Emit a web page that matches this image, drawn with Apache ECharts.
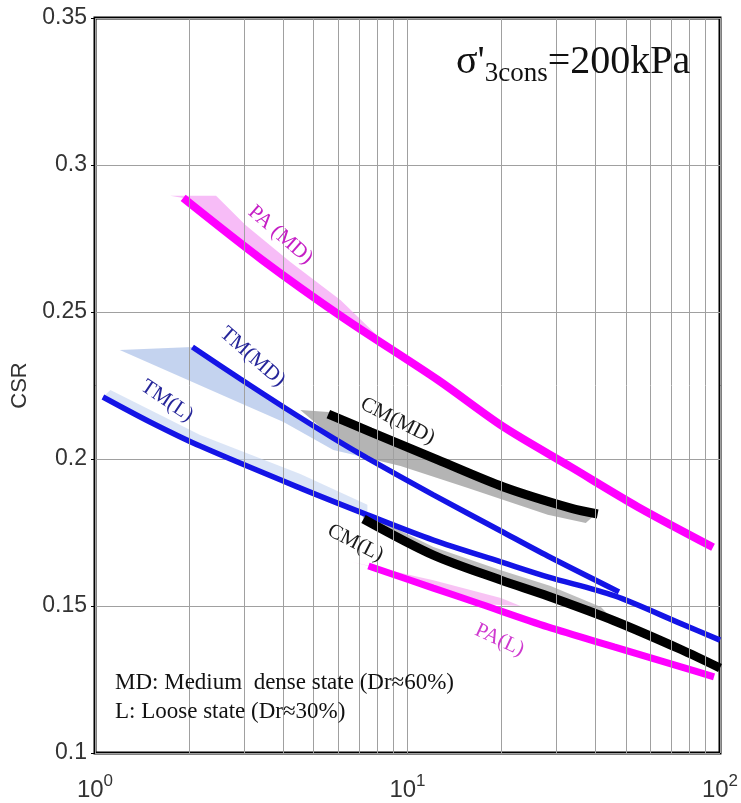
<!DOCTYPE html>
<html><head><meta charset="utf-8">
<script src="https://cdn.jsdelivr.net/npm/echarts@6/dist/echarts.min.js"></script>
<style>html,body{margin:0;padding:0;background:#fff}#c{width:741px;height:803px}</style>
</head><body><div id="c"></div>
<script>
// ---- data (x = number of cycles, log scale; y = CSR) ----
const paMD = [[1.915,0.2888],[3.43,0.2677],[6.24,0.2480],[12.5,0.2269],[20.3,0.2109],[33.3,0.1973],[54.6,0.1837],[95,0.170]];
const paMDShade = [[1.74,0.2895],[2.44,0.2895],[3.03,0.2796],[4.22,0.267],[6.10,0.2541],[9.0,0.2367],[6.24,0.2480],[3.43,0.2677],[1.915,0.2888]];
const tmMD = [[2.05,0.2381],[2.92,0.2272],[4.01,0.2177],[5.79,0.2071],[7.44,0.2003],[12.1,0.1878],[19.9,0.1755],[28.1,0.1670],[47.5,0.1548]];
const tmMDShade = [[1.20,0.2371],[2.05,0.2381],[2.92,0.2272],[4.01,0.2177],[5.79,0.2071],[7.44,0.2003],[5.79,0.2031],[4.01,0.2126],[2.77,0.2201]];
const tmL = [[1.06,0.2211],[1.50,0.2126],[2.17,0.2044],[4.54,0.1901],[7.44,0.1810],[12.1,0.1724],[19.9,0.1650],[28.1,0.1599],[45.8,0.1535],[75,0.1440],[100,0.1384]];
const tmLShade = [[1.12,0.2235],[2.17,0.2082],[4.54,0.1949],[7.44,0.1844],[7.44,0.1810],[4.54,0.1901],[2.17,0.2044],[1.50,0.2126],[1.06,0.2211]];
const cmMD = [[5.58,0.2153],[7.61,0.2092],[12.5,0.1997],[20.3,0.1905],[33.3,0.1833],[40.6,0.1813]];
const cmMDShade = [[4.54,0.2167],[5.58,0.2160],[7.61,0.2098],[12.5,0.2003],[20.3,0.1911],[33.3,0.1839],[40.6,0.1819],[37.2,0.1782],[28.1,0.1810],[15.6,0.1901],[9.50,0.1976],[7.44,0.2003],[5.79,0.2071]];
const cmL = [[7.23,0.1796],[12.1,0.1673],[19.9,0.1588],[28.1,0.1534],[45.8,0.1450],[75,0.1352],[100,0.1289]];
const cmLShade = [[7.07,0.1823],[12.1,0.1701],[19.9,0.1622],[28.7,0.1568],[41.6,0.1497],[45.8,0.1450],[28.1,0.1534],[19.9,0.1588],[12.1,0.1673],[7.23,0.1796]];
const paL = [[7.50,0.1636],[12.1,0.1561],[17.1,0.1507],[28.1,0.1429],[45.8,0.1361],[75,0.1293],[95.7,0.1259]];
const paLShade = [[6.66,0.1650],[12.1,0.1588],[19.9,0.1527],[23.0,0.150],[17.1,0.1507],[12.1,0.1561],[7.50,0.1636]];

const yTickLabels = ['0.1','0.15','0.2','0.25','0.3','0.35'];
const xTickExponents = ['0','1','2'];
const minorGridX = [2,3,4,5,6,7,8,9,20,30,40,50,60,70,80,90];

const curveLabels = [
  {text:'PA (MD)', at:[3.92,0.2762], rot:41, color:'#c51fc5'},
  {text:'TM(MD)', at:[3.19,0.2347], rot:41, color:'#26269a'},
  {text:'TM(L)', at:[1.70,0.2197], rot:34, color:'#26269a'},
  {text:'CM(MD)', at:[9.29,0.2129], rot:27, color:'#1a1a1a'},
  {text:'CM(L)', at:[6.81,0.1714], rot:27, color:'#1a1a1a'},
  {text:'PA(L)', at:[19.7,0.1384], rot:25, color:'#cf3acf'}
];

const chart = echarts.init(document.getElementById('c'), null, {renderer:'canvas'});

function shadeSeries(pts, color){
  return {
    type:'custom', data: pts, z:2, silent:true, clip:true,
    renderItem: function(params, api){
      if (params.dataIndex !== 0) return null;
      return {type:'polygon', shape:{points: pts.map(p => api.coord(p))}, style:{fill: color}};
    }
  };
}
function lineSeries(pts, color, width){
  return {type:'line', data: pts, smooth:0.3, showSymbol:false, z:3, silent:true,
    lineStyle:{color: color, width: width, cap:'butt'}};
}

chart.setOption({
  animation:false,
  backgroundColor:'#fff',
  grid:{left:95, top:18, right:21, bottom:50, show:true, borderColor:'#000', borderWidth:3,
        backgroundColor:'transparent', containLabel:false, outerBoundsMode:'none'},
  xAxis:{type:'log', logBase:10, min:1, max:100,
    axisLine:{show:false}, axisTick:{show:false},
    splitLine:{show:true, lineStyle:{color:'#a0a0a0', width:1}},
    axisLabel:{showMinLabel:true, showMaxLabel:true, margin:20,
      formatter: function(v){ const e = Math.round(Math.log10(v)); return '{b|10}{s|' + xTickExponents[e] + '}'; },
      rich:{
        b:{fontSize:24, fontFamily:'Liberation Sans', color:'#333'},
        s:{fontSize:17, fontFamily:'Liberation Sans', color:'#333', padding:[0,0,18,0]}
      }}
  },
  yAxis:{type:'value', min:0.1, max:0.35, interval:0.05,
    name:'CSR', nameLocation:'middle', nameGap:49,
    nameTextStyle:{fontSize:22, color:'#333', fontFamily:'Liberation Sans'},
    axisLine:{show:false},
    axisTick:{show:true, length:4, lineStyle:{color:'#000'}},
    splitLine:{show:true, lineStyle:{color:'#a0a0a0', width:1}},
    axisLabel:{fontSize:23, color:'#333', fontFamily:'Liberation Sans', margin:8,
      formatter: function(v){ return yTickLabels[Math.round((v-0.1)/0.05)]; }}
  },
  series:[
    {type:'line', data:[], z:1, silent:true,
      markLine:{silent:true, symbol:['none','none'], label:{show:false},
        lineStyle:{color:'#a0a0a0', width:1, type:'solid'},
        data: minorGridX.map(v => ({xAxis: v}))}},
    shadeSeries(paMDShade, 'rgba(243,160,243,0.7)'),
    shadeSeries(tmMDShade, 'rgba(165,188,230,0.65)'),
    shadeSeries(tmLShade, 'rgba(195,212,240,0.6)'),
    shadeSeries(cmMDShade, 'rgba(155,155,155,0.75)'),
    shadeSeries(cmLShade, 'rgba(170,170,170,0.75)'),
    shadeSeries(paLShade, 'rgba(245,170,240,0.7)'),
    lineSeries(paMD, '#ff00ff', 8),
    lineSeries(tmMD, '#1414e6', 5.5),
    lineSeries(tmL, '#1414e6', 5.5),
    lineSeries(cmMD, '#000000', 9),
    lineSeries(cmL, '#000000', 9),
    lineSeries(paL, '#ff00ff', 7)
  ]
});

const g = curveLabels.map(function(l, i){
  const p = chart.convertToPixel({gridIndex:0}, l.at);
  return {type:'text', id:'lab'+i, x:p[0], y:p[1], rotation:-l.rot*Math.PI/180, z:10,
    style:{text:l.text, font:'21px "Liberation Serif"', fill:l.color, align:'center', verticalAlign:'middle'}};
});
g.push({type:'text', id:'title', x:456, y:62, z:10,
  style:{text:"{a|σ'}{c|3cons}{a|=200kPa}", align:'left', verticalAlign:'middle',
    rich:{
      a:{fontSize:40, fontFamily:'Liberation Serif', fill:'#111', color:'#111'},
      c:{fontSize:27, fontFamily:'Liberation Serif', fill:'#111', color:'#111', padding:[24,0,0,0]}
    }}});
g.push({type:'text', id:'note1', x:115, y:683, z:10,
  style:{text:'MD: Medium  dense state (Dr≈60%)', font:'23px "Liberation Serif"', fill:'#111', align:'left', verticalAlign:'middle'}});
g.push({type:'text', id:'note2', x:115, y:712, z:10,
  style:{text:'L: Loose state (Dr≈30%)', font:'23px "Liberation Serif"', fill:'#111', align:'left', verticalAlign:'middle'}});
chart.setOption({graphic: g});
</script>
</body></html>
